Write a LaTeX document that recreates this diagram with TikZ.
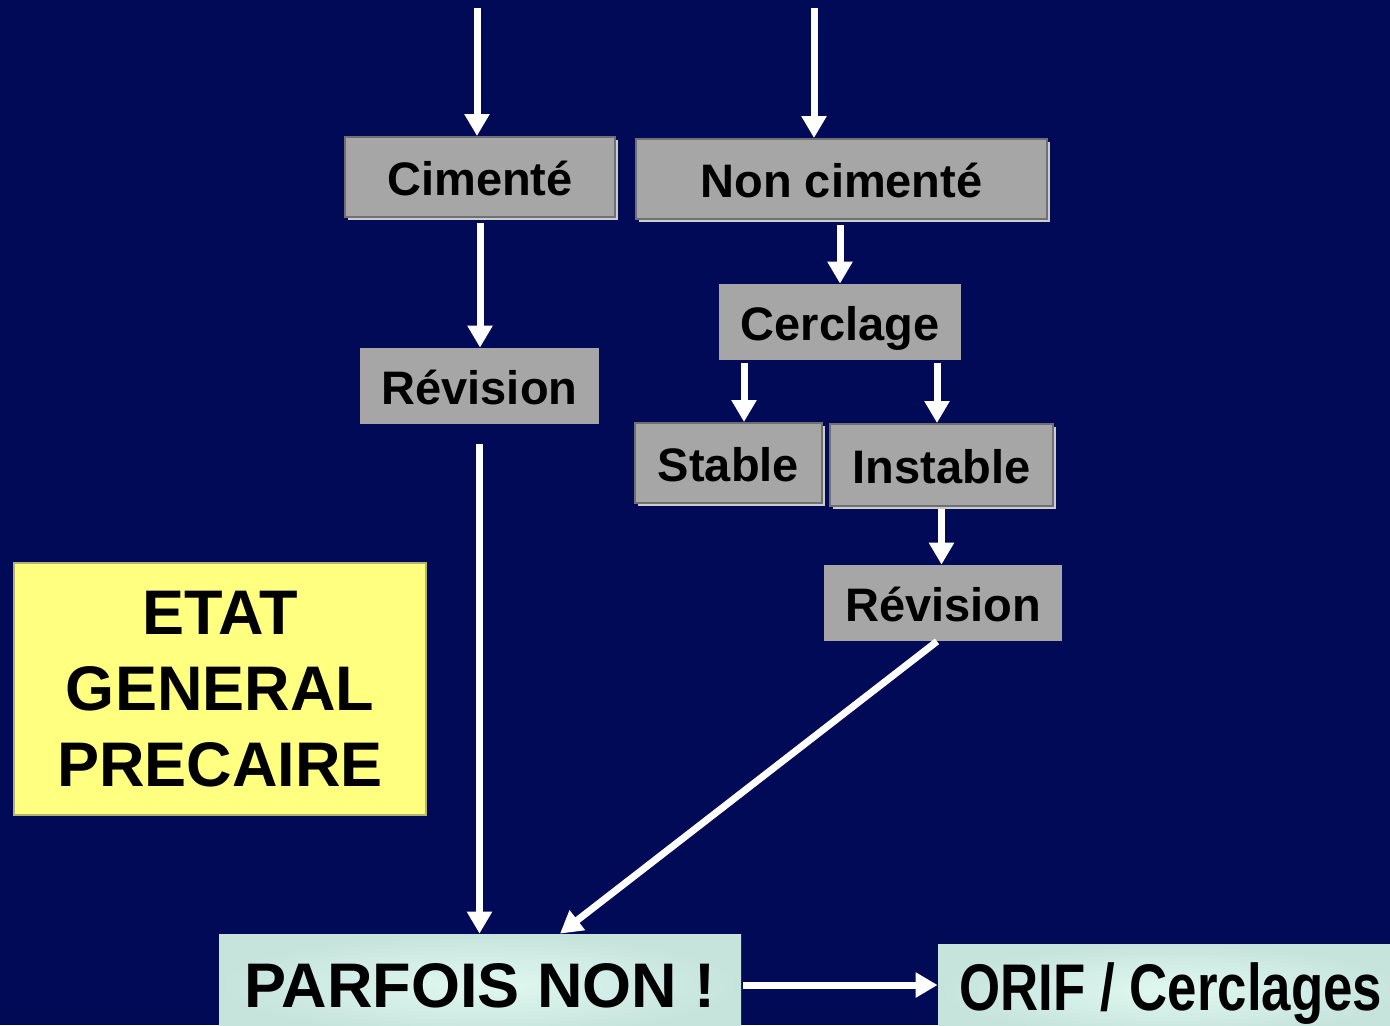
\documentclass[tikz,border=0pt]{standalone}
\usepackage{fontspec}
\setmainfont{Liberation Sans}
\newfontfamily\etroite{Liberation Sans}[FakeStretch=0.8]
\usetikzlibrary{arrows.meta,shadows}
\definecolor{fond}{RGB}{1,10,86}
\definecolor{gris}{RGB}{166,166,166}
\definecolor{grisfonce}{RGB}{112,112,112}
\definecolor{grisclair}{RGB}{205,205,205}
\definecolor{jaune}{RGB}{255,255,128}
\definecolor{jaunebord}{RGB}{180,180,110}
\definecolor{mentheclair}{RGB}{224,248,240}
\definecolor{menthe}{RGB}{198,228,220}
\begin{document}
\begin{tikzpicture}[x=0.5pt,y=-0.5pt]
            \tikzstyle{boite}=[rectangle,fill=gris,inner sep=0pt,text height=18pt,text depth=0pt,font=\bfseries\fontsize{23.5}{28}\selectfont]
            \tikzstyle{relief}=[boite,draw=grisfonce,line width=1pt,general shadow={fill=grisclair,shadow xshift=1.5pt,shadow yshift=-1.5pt}]
            \tikzstyle{note}=[rectangle,fill=jaune,draw=jaunebord,line width=1pt,inner sep=0pt,align=center,font=\bfseries\fontsize{31.5}{38}\selectfont]
            \tikzstyle{issue}=[rectangle,inner sep=0pt,inner color=mentheclair,outer color=menthe,text depth=0pt]
            \tikzstyle{fleche}=[line width=3.5pt,white,-{Triangle[width=12pt,length=11pt]}]
            \clip (0,0) rectangle (1390,1025);
            \fill[fond] (0,0) rectangle (1390,1025);
            % les boites
            \node[relief,minimum width=135pt,minimum height=40pt] (cim) at (480,177) {Cimenté};
            \node[relief,minimum width=205.5pt,minimum height=40pt] (ncim) at (841.5,179) {Non cimenté};
            \node[boite,minimum width=121pt,minimum height=38pt] (cerc) at (840,322) {Cerclage};
            \node[boite,minimum width=119.5pt,minimum height=38pt] (rev1) at (479.5,386) {Révision};
            \node[relief,minimum width=93.5pt,minimum height=40pt] (stab) at (728.5,463) {Stable};
            \node[relief,minimum width=111.5pt,minimum height=41pt] (inst) at (941.5,465) {Instable};
            \node[boite,minimum width=119pt,minimum height=38pt] (rev2) at (943,603) {Révision};
            \node[note,minimum width=206pt,minimum height=126pt] (etat) at (220,689) {ETAT\\GENERAL\\PRECAIRE};
            \node[issue,minimum width=261pt,minimum height=51pt,text height=22.5pt,font=\bfseries\fontsize{31.5}{38}\selectfont] (parf) at (480,985) {PARFOIS NON !};
            \node[issue,minimum width=233pt,minimum height=46pt,text height=20pt,font=\etroite\bfseries\fontsize{33}{40}\selectfont] (orif) at (1171,990) {ORIF / Cerclages};
            % les fleches
            \coordinate (h1) at (477,8);
            \coordinate (h2) at (814,8);
            \draw[fleche] (h1) -- (h1 |- cim.north);
            \draw[fleche] (h2) -- (h2 |- ncim.north);
            \draw[fleche,shorten <=2.5pt] (cim.south) -- (cim.south |- rev1.north);
            \draw[fleche,shorten <=2.5pt] (cerc.north |- ncim.south) -- (cerc.north);
            \draw[fleche,shorten <=1.5pt] ([xshift=-48pt]cerc.south) -- ([xshift=-48pt]cerc.south |- stab.north);
            \draw[fleche,shorten <=1.5pt] ([xshift=48.5pt]cerc.south) -- ([xshift=48.5pt]cerc.south |- inst.north);
            \draw[fleche,shorten <=1pt] (inst.south) -- (inst.south |- rev2.north);
            \draw[fleche,shorten <=10pt] (rev1.south) -- (rev1.south |- parf.north);
            \draw[fleche] ([xshift=-3pt]rev2.south) -- ([xshift=40pt]parf.north);
            \draw[fleche,shorten <=1pt] (parf.east) -- (parf.east -| orif.west);
\end{tikzpicture}
\end{document}
